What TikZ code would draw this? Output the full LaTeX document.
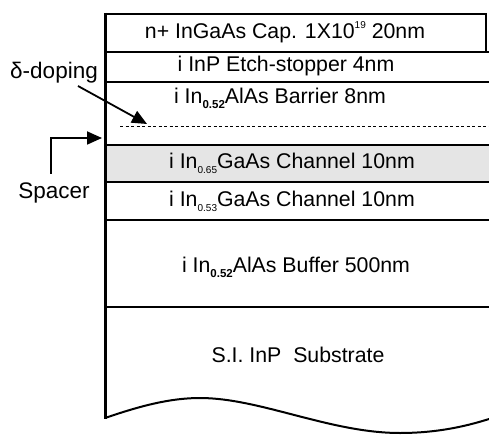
\documentclass[tikz,border=0pt]{standalone}
\usepackage{fontspec}
\setmainfont{Liberation Sans}
\usetikzlibrary{arrows.meta}
\newcommand{\mysubsc}[1]{\raisebox{-0.45ex}{\fontsize{10}{10}\selectfont #1}}
\newcommand{\mybsubsc}[1]{\raisebox{-0.45ex}{\fontsize{11.5}{11}\selectfont\bfseries #1}}
\newcommand{\mysupsc}[1]{\raisebox{0.85ex}{\fontsize{10}{10}\selectfont #1}}
\begin{document}
\begin{tikzpicture}[x=1pt,y=-1pt,
  layerline/.style={line width=2pt},
  ltext/.style={font=\fontsize{21.3}{24}\selectfont, inner sep=0pt},
  lab/.style={font=\fontsize{22.5}{26}\selectfont, inner sep=0pt},
  pointer/.style={line width=1.8pt, -{Triangle[length=15pt,width=13pt]}}]
\useasboundingbox (0,0) rectangle (489,435);
% shaded channel
\fill[black!10] (105,145) rectangle (489,182);
% cap box
\draw[line width=1.8pt] (105,14) -- (486,14) -- (486,52);
\draw[layerline] (105,52) -- (489,52);
\draw[layerline] (105,82) -- (489,82);
\draw[layerline] (105,145) -- (489,145);
\draw[layerline] (105,182) -- (489,182);
\draw[layerline] (105,220) -- (489,220);
\draw[layerline] (105,307) -- (489,307);
% delta doping dashed line
\draw[line width=1pt, dash pattern=on 3pt off 2.5pt] (120,127) -- (489,127);
% wavy bottom
\draw[line width=2pt] (105,418) .. controls (140,406) and (170,398) .. (200,398)
  .. controls (260,398) and (330,433) .. (400,433)
  .. controls (440,433) and (470,425) .. (489,419);
% left edge
\draw[line width=3pt] (105,13) -- (105,419);
% layer texts
\node[ltext] (cap) at (285,32) {n+ InGaAs Cap. 1X10\mysupsc{19} 20nm};
\node[ltext] (etch) at (286,66) {i InP Etch-stopper 4nm};
\node[ltext] (barrier) at (280,98) {i In\mybsubsc{0.52}AlAs Barrier 8nm};
\node[ltext] (ch1) at (292,163) {i In\mysubsc{0.65}GaAs Channel 10nm};
\node[ltext] (ch2) at (292,201) {i In\mysubsc{0.53}GaAs Channel 10nm};
\node[ltext] (buffer) at (296,267) {i In\mybsubsc{0.52}AlAs Buffer 500nm};
\node[ltext] (sub) at (298,355) {S.I. InP\ \ Substrate};
% labels and pointers
\node[lab] (delta) at (54,73) {δ-doping};
\coordinate (dstart) at (78,86);
\coordinate (dtip) at (147,124);
\draw[pointer] (dstart) -- (dtip);
\node[lab] (spacer) at (54,193) {Spacer};
\coordinate (spstart) at (51,174);
\coordinate (sptip) at (102,138);
\draw[pointer] (spstart) |- (sptip);
\end{tikzpicture}
\end{document}
